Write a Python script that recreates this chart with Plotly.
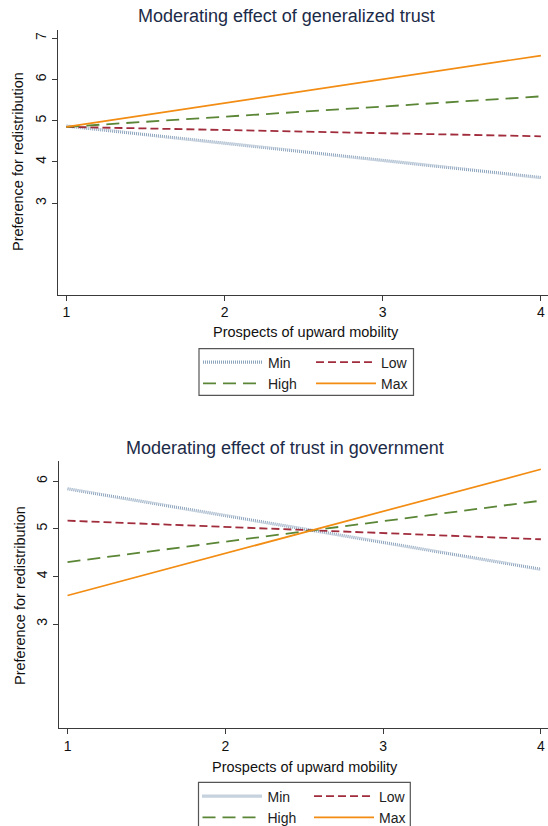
import plotly.graph_objects as go

# ---------------- data ----------------
x_prospects = [1, 2, 3, 4]
series_names = ["Min", "Low", "High", "Max"]

# Panel 1: generalized trust
gen_min = [4.87, 4.45, 4.04, 3.62]
gen_low = [4.85, 4.77, 4.70, 4.62]
gen_high = [4.85, 5.10, 5.34, 5.59]
gen_max = [4.85, 5.43, 6.00, 6.58]

# Panel 2: trust in government
gov_min = [5.84, 5.28, 4.71, 4.15]
gov_low = [5.17, 5.04, 4.91, 4.78]
gov_high = [4.30, 4.73, 5.16, 5.59]
gov_max = [3.60, 4.48, 5.37, 6.25]

y_ticks = [3, 4, 5, 6, 7]
x_ticks = [1, 2, 3, 4]

title_top = "Moderating effect of generalized trust"
title_bottom = "Moderating effect of trust in government"
x_title = "Prospects of upward mobility"
y_title = "Preference for redistribution"

# ---------------- styling ----------------
W, H = 548, 845   # page is cut at 826 by the window, like the reference
FONT = "Liberation Sans, Arial, sans-serif"
styles = {
    "Min": dict(color="#8da4bd", width=3.2, dash="1px,1px"),
    "Low": dict(color="#a02c3c", width=1.8, dash="8px,4px"),
    "High": dict(color="#5a8636", width=1.8, dash="13px,7px"),
    "Max": dict(color="#f28c12", width=1.7, dash="solid"),
}
AX = "#3a3a3a"


def px_x(p):
    return p / W


def px_y(p):
    return 1 - p / H


fig = go.Figure()

panels = [
    ("x", "y", [gen_min, gen_low, gen_high, gen_max], ("legend", "legend2")),
    ("x2", "y2", [gov_min, gov_low, gov_high, gov_max], ("legend3", "legend4")),
]
for xa, ya, vals, (lg1, lg2) in panels:
    for name, v in zip(series_names, vals):
        lg = lg1 if name in ("Min", "High") else lg2
        fig.add_trace(go.Scatter(
            x=x_prospects, y=v, mode="lines", name=name,
            line=styles[name], xaxis=xa, yaxis=ya, legend=lg,
            hoverinfo="x+y+name",
        ))

axis_common = dict(
    showgrid=False, zeroline=False, showline=True, linecolor=AX, linewidth=1,
    ticks="outside", ticklen=5, tickcolor=AX, tickwidth=1,
    tickfont=dict(family=FONT, size=14, color="#111111"),
)

fig.update_layout(
    width=W, height=H,
    margin=dict(l=0, r=0, t=0, b=0),
    paper_bgcolor="white", plot_bgcolor="white",
    font=dict(family=FONT, size=14, color="#111111"),
    xaxis=dict(domain=[px_x(57.5), 1], range=[0.9435, 4.045],
               tickvals=x_ticks, anchor="y", **axis_common),
    yaxis=dict(domain=[px_y(294.6), px_y(30)], range=[0.78, 7.2],
               tickvals=y_ticks, tickangle=-90, anchor="x", **axis_common),
    xaxis2=dict(domain=[px_x(58.7), 1], range=[0.944, 4.045],
                tickvals=x_ticks, anchor="y2", **axis_common),
    yaxis2=dict(domain=[px_y(728.3), px_y(460.7)], range=[0.81, 6.43],
                tickvals=y_ticks[:-1], tickangle=-90, anchor="x2", **axis_common),
)

leg_common = dict(
    bgcolor="rgba(0,0,0,0)", borderwidth=0, orientation="v",
    font=dict(family=FONT, size=14, color="#222222"),
    xanchor="left", yanchor="middle", itemwidth=60,
    tracegroupgap=0, itemclick=False, itemdoubleclick=False,
)
fig.update_layout(
    legend=dict(x=px_x(198), y=px_y(373), **leg_common),
    legend2=dict(x=px_x(311), y=px_y(373), **leg_common),
    legend3=dict(x=px_x(197.5), y=px_y(807), **leg_common),
    legend4=dict(x=px_x(309), y=px_y(807), **leg_common),
)

# legend frames
fig.add_shape(type="rect", xref="paper", yref="paper",
              x0=px_x(199), x1=px_x(413.5), y0=px_y(395.3), y1=px_y(348.7),
              line=dict(color="#555555", width=1.2), fillcolor="rgba(0,0,0,0)")
fig.add_shape(type="rect", xref="paper", yref="paper",
              x0=px_x(198.5), x1=px_x(410.3), y0=px_y(829), y1=px_y(782.3),
              line=dict(color="#555555", width=1.2), fillcolor="rgba(0,0,0,0)")

ann = []
ann.append(dict(text=title_top, x=px_x(286), y=px_y(16), xref="paper", yref="paper",
                showarrow=False, font=dict(family=FONT, size=18, color="#1c2b48"),
                xanchor="center", yanchor="middle"))
ann.append(dict(text=title_bottom, x=px_x(285), y=px_y(448), xref="paper", yref="paper",
                showarrow=False, font=dict(family=FONT, size=18, color="#1c2b48"),
                xanchor="center", yanchor="middle"))
ann.append(dict(text=x_title, x=px_x(306), y=px_y(332), xref="paper", yref="paper",
                showarrow=False, font=dict(family=FONT, size=14.5, color="#111111"),
                xanchor="center", yanchor="middle"))
ann.append(dict(text=x_title, x=px_x(305), y=px_y(767), xref="paper", yref="paper",
                showarrow=False, font=dict(family=FONT, size=14.5, color="#111111"),
                xanchor="center", yanchor="middle"))
ann.append(dict(text=y_title, x=px_x(18), y=px_y(162), xref="paper", yref="paper",
                showarrow=False, textangle=-90, font=dict(family=FONT, size=14.5, color="#111111"),
                xanchor="center", yanchor="middle"))
ann.append(dict(text=y_title, x=px_x(20), y=px_y(596), xref="paper", yref="paper",
                showarrow=False, textangle=-90, font=dict(family=FONT, size=14.5, color="#111111"),
                xanchor="center", yanchor="middle"))
fig.update_layout(annotations=ann)

fig.write_html(
    "out.html",
    config={"displayModeBar": False},
    post_script="document.body.style.margin='0';document.body.style.overflow='hidden';"
                "document.documentElement.style.overflow='hidden';",
)
